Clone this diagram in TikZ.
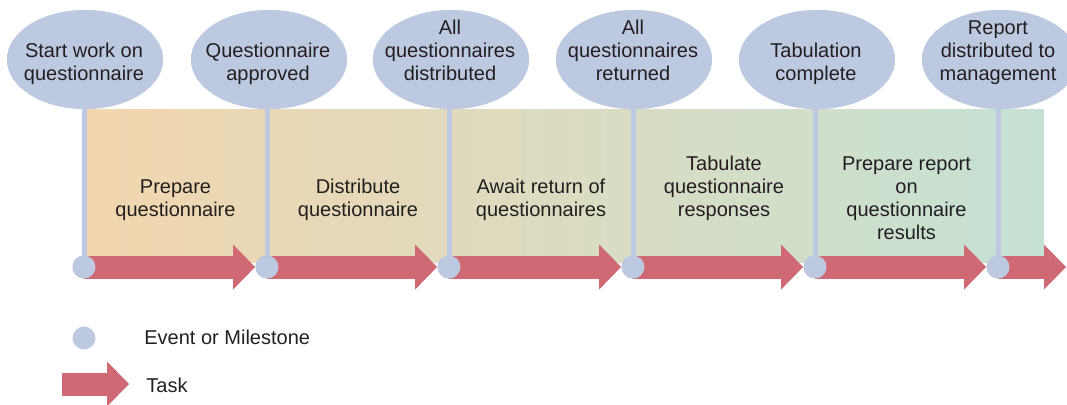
\documentclass[tikz,border=0pt]{standalone}
\usepackage{fontspec}
\setmainfont{Liberation Sans}
\usepackage{xcolor}
\usepackage{tikz}
\usetikzlibrary{shapes.geometric,positioning}

\definecolor{evblue}{HTML}{BDC9E1}
\definecolor{taskred}{HTML}{CF6A74}
\definecolor{bandorange}{HTML}{F2D6AE}
\definecolor{bandmid}{HTML}{E1DBBE}
\definecolor{bandgreen}{HTML}{C5E1D4}
\definecolor{ink}{HTML}{231F20}

\tikzset{
  milestone/.style={ellipse,fill=evblue,minimum width=78pt,minimum height=49.5pt,inner sep=0pt},
  event/.style={circle,fill=evblue,minimum size=11.5pt,inner sep=0pt},
  stem/.style={evblue,line width=2.5pt},
  taskbody/.style={taskred,line width=11.5pt},
  lbl/.style={text=ink,align=center,inner sep=0pt,text depth=0pt,anchor=south,
    font=\fontsize{10pt}{11.5pt}\selectfont},
  legtext/.style={text=ink,inner sep=0pt,anchor=base west,font=\fontsize{10pt}{11.5pt}\selectfont}
}

% body of a task arrow, then its head
\newcommand{\taskarrow}[2]{%
  \draw[taskbody] (#1) -- ([xshift=-11pt]#2);
  \fill[taskred] (#2) -- ++(-22,22.5) -- ++(0,-45) -- cycle;}

\begin{document}
\begin{tikzpicture}[x=0.5pt,y=-0.5pt]
\useasboundingbox (0,0) rectangle (1067,404);

% coloured band behind the tasks
\shade[left color=bandorange,middle color=bandmid,right color=bandgreen] (84,109) rectangle (1044,262);

% events on the time line
\node[event] (c1) at (84,267) {};
\node[event] (c2) at (267,267) {};
\node[event] (c3) at (449,267) {};
\node[event] (c4) at (633,267) {};
\node[event] (c5) at (815,267) {};
\node[event] (c6) at (998,267) {};
\coordinate (fin) at (1066,267);

% milestones
\node[milestone] (m1) at (85,59.5) {};
\node[milestone] (m2) at (269,59.5) {};
\node[milestone] (m3) at (451,59.5) {};
\node[milestone] (m4) at (634,59.5) {};
\node[milestone] (m5) at (817,59.5) {};
\node[milestone] (m6) at (1000,59.5) {};

% tasks
\foreach \a/\b in {c1/c2,c2/c3,c3/c4,c4/c5,c5/c6}
  \taskarrow{\a.center}{\b.west};
\taskarrow{c6.center}{fin}

% stems
\foreach \i in {1,...,6}
  \draw[stem] (c\i.center) -- (c\i.center |- m\i.south);

% circles and ellipses again, over the stems and arrows
\foreach \i in {1,...,6}{
  \node[event] at (c\i) {};
  \node[milestone] at (m\i) {};
}

% milestone texts
\node[lbl] (t1) at (84,81) {Start work on\\questionnaire};
\node[lbl] (t2) at (268,81) {Questionnaire\\approved};
\node[lbl] (t3) at (450,81) {All\\questionnaires\\distributed};
\node[lbl] (t4) at (633,81) {All\\questionnaires\\returned};
\node[lbl] (t5) at (816,81) {Tabulation\\complete};
\node[lbl] (t6) at (998,81) {Report\\distributed to\\management};

% task texts
\node[lbl] (k1) at (175.5,217) {Prepare\\questionnaire};
\node[lbl] (k2) at (358,217) {Distribute\\questionnaire};
\node[lbl] (k3) at (541,217) {Await return of\\questionnaires};
\node[lbl] (k4) at (724,217) {Tabulate\\questionnaire\\responses};
\node[lbl] (k5) at (906.5,240) {Prepare report\\on\\questionnaire\\results};

% legend
\node[event] (l1) at (84,338) {};
\node[legtext] (l1t) at (144,344) {Event or Milestone};
\coordinate (l2a) at (62,384);
\coordinate (l2b) at (129,384);
\taskarrow{l2a}{l2b}
\node[legtext] (l2t) at (146,392) {Task};
\end{tikzpicture}
\end{document}
